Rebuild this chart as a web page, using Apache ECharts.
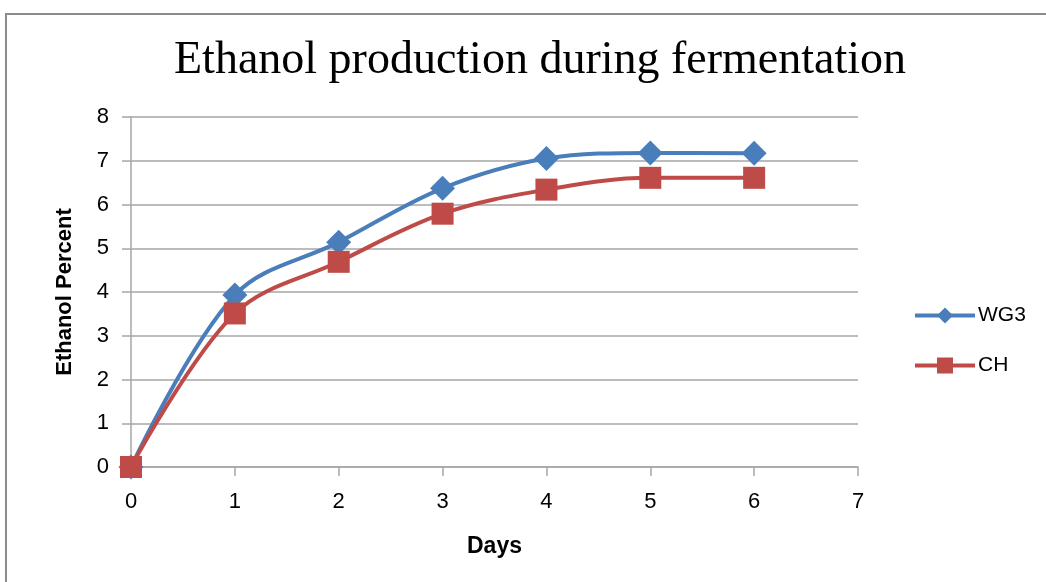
<!DOCTYPE html>
<html>
<head>
<meta charset="utf-8">
<script src="https://cdn.jsdelivr.net/npm/echarts@6/dist/echarts.min.js"></script>
<style>
  html, body { margin: 0; padding: 0; background: #fff; }
  #frame { position: absolute; left: 5px; top: 13px; width: 1100px; height: 700px; border: 2px solid #8c8c8c; box-sizing: border-box; }
  #chart { position: absolute; left: 0; top: 0; width: 1046px; height: 582px; }
</style>
</head>
<body>
<div id="frame"></div>
<div id="chart"></div>
<script>
const days = [0, 1, 2, 3, 4, 5, 6]
const wg3 = [0, 3.93, 5.14, 6.37, 7.05, 7.18, 7.17]
const ch = [0, 3.51, 4.69, 5.79, 6.34, 6.61, 6.61]

const toPairs = (xs, ys) => xs.map((x, i) => [x, ys[i]])

var myChart = echarts.init(document.getElementById('chart'))
myChart.setOption({
  animation: false,
  title: {
    text: 'Ethanol production during fermentation',
    left: 535,
    top: 33,
    textAlign: 'center',
    textStyle: { fontFamily: 'Liberation Serif', fontWeight: 'normal', fontSize: 46, color: '#000' }
  },
  legend: {
    orient: 'vertical',
    left: 908,
    top: 300,
    itemWidth: 60,
    itemHeight: 20,
    itemGap: 29,
    lineStyle: { width: 4 },
    textStyle: { fontFamily: 'Liberation Sans', fontSize: 21, color: '#000', padding: [0, 0, 0, -2] },
    data: ['WG3', 'CH']
  },
  grid: { left: 131, right: 188, top: 117, bottom: 115 },
  xAxis: {
    type: 'value',
    min: 0, max: 7, interval: 1,
    name: 'Days',
    nameLocation: 'middle',
    nameGap: 68,
    nameTextStyle: { fontFamily: 'Liberation Sans', fontWeight: 'bold', fontSize: 23, color: '#000' },
    axisLine: { lineStyle: { color: '#a6a6a6', width: 1.5 } },
    axisTick: { show: true, length: 9, lineStyle: { color: '#a6a6a6', width: 1.5 } },
    axisLabel: { fontFamily: 'Liberation Sans', fontSize: 22, color: '#000', margin: 24 },
    splitLine: { show: false }
  },
  yAxis: {
    type: 'value',
    min: 0, max: 8, interval: 1,
    name: 'Ethanol Percent',
    nameLocation: 'middle',
    nameGap: 55,
    nameTextStyle: { fontFamily: 'Liberation Sans', fontWeight: 'bold', fontSize: 22, color: '#000' },
    axisLine: { show: true, lineStyle: { color: '#a6a6a6', width: 1.5 } },
    axisTick: { show: true, length: 9, lineStyle: { color: '#a6a6a6', width: 1.5 } },
    axisLabel: { fontFamily: 'Liberation Sans', fontSize: 22, color: '#000', margin: 22 },
    splitLine: { lineStyle: { color: '#a6a6a6', width: 1.5 } }
  },
  series: [
    {
      name: 'WG3',
      type: 'line',
      smooth: 0.35,
      data: toPairs(days, wg3),
      symbol: 'diamond',
      symbolSize: 25,
      lineStyle: { color: '#4a7ebb', width: 4 },
      itemStyle: { color: '#4a7ebb' }
    },
    {
      name: 'CH',
      type: 'line',
      smooth: 0.35,
      data: toPairs(days, ch),
      symbol: 'rect',
      symbolSize: 22,
      lineStyle: { color: '#be4b48', width: 4 },
      itemStyle: { color: '#be4b48' }
    }
  ]
})
</script>
</body>
</html>
